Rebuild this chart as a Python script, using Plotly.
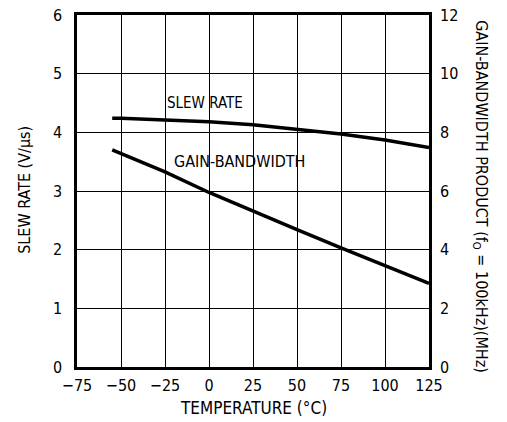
import plotly.graph_objects as go

# Temperature (degC)
temp_sr = [-55, -50, -25, 0, 25, 50, 75, 100, 125]
slew_rate = [4.24, 4.24, 4.21, 4.18, 4.13, 4.05, 3.97, 3.87, 3.74]

temp_gbw = [-55, -25, 0, 25, 50, 75, 100, 125]
gbw = [7.4, 6.65, 5.95, 5.3, 4.68, 4.06, 3.45, 2.85]

FONT = "DejaVu Sans Condensed, Liberation Sans, sans-serif"

fig = go.Figure()

fig.add_trace(go.Scatter(x=temp_sr, y=slew_rate, mode="lines",
                         line=dict(color="black", width=3.5), yaxis="y"))
fig.add_trace(go.Scatter(x=temp_gbw, y=gbw, mode="lines",
                         line=dict(color="black", width=3.5), yaxis="y2"))

fig.update_layout(
    width=507, height=422,
    margin=dict(l=77, r=78, t=15, b=55),
    paper_bgcolor="white", plot_bgcolor="white",
    showlegend=False,
    font=dict(family=FONT, size=16, color="black"),
    xaxis=dict(range=[-75, 125], tickvals=list(range(-75, 126, 25)),
               showgrid=True, gridcolor="black", gridwidth=1.3,
               showline=True, linecolor="black", linewidth=2.5, mirror=True,
               zeroline=False, ticks="", ticklabelstandoff=2, automargin=False,
               ticklabeloverflow="allow", tickfont=dict(size=16)),
    yaxis=dict(range=[0, 6], tickvals=list(range(0, 7)),
               showgrid=True, gridcolor="black", gridwidth=1.3,
               showline=True, linecolor="black", linewidth=2.5, mirror=True,
               zeroline=False, ticks="", ticklabelstandoff=9, automargin=False,
               ticklabeloverflow="allow", tickfont=dict(size=16)),
    yaxis2=dict(range=[0, 12], tickvals=list(range(0, 13, 2)),
                overlaying="y", side="right", showgrid=False,
                zeroline=False, ticks="", ticklabelstandoff=10, automargin=False,
                ticklabeloverflow="allow", tickfont=dict(size=16)),
    annotations=[
        dict(text="SLEW RATE", x=-2, y=4.5, xref="x", yref="y",
             showarrow=False, font=dict(size=15)),
        dict(text="GAIN-BANDWIDTH", x=17.5, y=3.5, xref="x", yref="y",
             showarrow=False, font=dict(size=16)),
        dict(text="TEMPERATURE (°C)", x=0.5, y=-0.116, xref="paper", yref="paper",
             showarrow=False, yanchor="middle", font=dict(size=17)),
        dict(text="SLEW RATE (V/µs)", x=-0.148, y=0.503, xref="paper", yref="paper",
             showarrow=False, textangle=-90, xanchor="center", yanchor="middle",
             font=dict(size=16)),
        dict(text="GAIN-BANDWIDTH PRODUCT (f<sub>O</sub> = 100kHz)(MHz)",
             x=1.148, y=0.485, xref="paper", yref="paper",
             showarrow=False, textangle=90, xanchor="center", yanchor="middle",
             font=dict(size=16)),
    ],
)

# drop the default body margin so the figure sits at the page corner
fig.write_html("out.html", config={"displayModeBar": False},
               post_script="document.body.style.margin='0';")
